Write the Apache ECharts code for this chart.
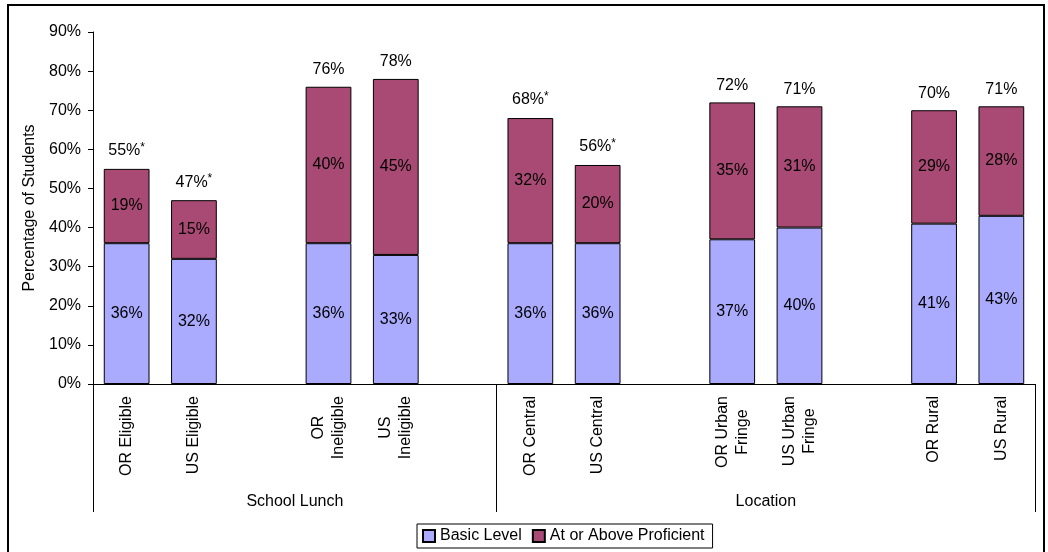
<!DOCTYPE html>
<html>
<head>
<meta charset="utf-8">
<script src="https://cdn.jsdelivr.net/npm/echarts@6/dist/echarts.min.js"></script>
<style>
html,body{margin:0;padding:0;background:#fff;}
#c{width:1048px;height:552px;}
</style>
</head>
<body>
<div id="c"></div>
<script>
// ---- data ----
const categories = ['OR Eligible', 'US Eligible', ' ', 'OR\nIneligible', 'US\nIneligible', '  ',
  'OR Central', 'US Central', '   ', 'OR Urban\nFringe', 'US Urban\nFringe', '    ', 'OR Rural', 'US Rural'];
const basicLevel = [36, 32, '-', 36, 33, '-', 36, 36, '-', 37, 40, '-', 41, 43];
const proficient = [19, 15, '-', 40, 45, '-', 32, 20, '-', 35, 31, '-', 29, 28];
const totals = [55, 47, '-', 76, 78, '-', 68, 56, '-', 72, 71, '-', 70, 71];
const significant = [true, true, false, false, false, false, true, true, false, false, false, false, false, false];
const groupNames = ['School Lunch', 'Location'];
const groupCenters = [3, 10];
const groupBounds = [0, 6, 14];
const yTicks = [0, 10, 20, 30, 40, 50, 60, 70, 80, 90];
const seriesNames = ['Basic Level', 'At or Above Proficient'];

const FONT = 'Liberation Sans, Arial, sans-serif';
const chart = echarts.init(document.getElementById('c'), null, {renderer: 'canvas'});

const option = {
  backgroundColor: '#fff',
  animation: false,
  textStyle: {fontFamily: FONT, color: '#000'},
  graphic: [{
    type: 'rect', silent: true,
    shape: {x: 8, y: 5, width: 1036, height: 560},
    style: {fill: 'none', stroke: '#000', lineWidth: 2}
  }],
  grid: {left: 93, right: 13, top: 32, bottom: 168, containLabel: false},
  legend: {
    data: seriesNames,
    left: 417, top: 524,
    orient: 'horizontal',
    borderColor: '#000', borderWidth: 1,
    padding: [4, 8, 4, 5],
    itemWidth: 12, itemHeight: 12, itemGap: 10,
    icon: 'rect',
    textStyle: {fontSize: 16, color: '#000', fontFamily: FONT}
  },
  xAxis: [{
    type: 'category',
    data: categories,
    position: 'bottom',
    axisLine: {show: true, lineStyle: {color: '#000', width: 1}},
    axisTick: {show: false},
    axisLabel: {
      interval: 0, rotate: 90, margin: 12,
      fontSize: 16, color: '#000', fontFamily: FONT, lineHeight: 20,
      formatter: function (v) {
        return v.split('\n').map(function (s) { return '{c|' + s + '}'; }).join('\n');
      },
      rich: {c: {align: 'center', fontSize: 16, lineHeight: 20, color: '#000', fontFamily: FONT}}
    }
  }, {
    type: 'value',
    min: 0, max: 14,
    position: 'bottom',
    axisLine: {show: false},
    splitLine: {show: false},
    axisTick: {show: true, customValues: groupBounds, length: 128, lineStyle: {color: '#000', width: 1}},
    axisLabel: {
      customValues: groupCenters, margin: 110,
      fontSize: 16, color: '#000', fontFamily: FONT,
      formatter: function (v) { return groupNames[groupCenters.indexOf(v)] || ''; }
    }
  }],
  yAxis: {
    type: 'value', min: 0, max: 90, interval: 10,
    name: 'Percentage of Students',
    nameLocation: 'middle', nameRotate: 90, nameGap: 45,
    nameTextStyle: {fontSize: 16, color: '#000', fontFamily: FONT},
    axisLine: {show: true, lineStyle: {color: '#000', width: 1}},
    axisTick: {show: true, inside: false, length: 5, lineStyle: {color: '#000'}},
    splitLine: {show: false},
    axisLabel: {
      fontSize: 16, color: '#000', fontFamily: FONT, margin: 12,
      formatter: function (v) { return yTicks.indexOf(v) >= 0 ? v + '%' : ''; }
    }
  },
  series: [{
    name: seriesNames[0], type: 'bar', stack: 'total',
    data: basicLevel,
    barCategoryGap: '32%',
    itemStyle: {color: '#AAAAFF', borderColor: '#000', borderWidth: 1},
    label: {show: true, position: 'inside', fontSize: 16, color: '#000', fontFamily: FONT,
      formatter: function (p) { return p.value + '%'; }}
  }, {
    name: seriesNames[1], type: 'bar', stack: 'total',
    data: proficient,
    barCategoryGap: '32%',
    itemStyle: {color: '#A94A74', borderColor: '#000', borderWidth: 1},
    label: {show: true, position: 'inside', fontSize: 16, color: '#000', fontFamily: FONT,
      formatter: function (p) { return p.value + '%'; }}
  }, {
    name: 'Total', type: 'scatter',
    data: totals,
    symbolSize: 0,
    silent: true,
    itemStyle: {opacity: 1},
    label: {
      show: true, position: 'top', distance: 9,
      fontSize: 16, color: '#000', fontFamily: FONT, opacity: 1,
      formatter: function (p) {
        return p.value + '%' + (significant[p.dataIndex] ? '{s|*}' : '');
      },
      rich: {s: {fontSize: 12, color: '#000', fontFamily: FONT, verticalAlign: 'top', padding: [0, 0, 6, 0]}}
    }
  }]
};
chart.setOption(option);
</script>
</body>
</html>
